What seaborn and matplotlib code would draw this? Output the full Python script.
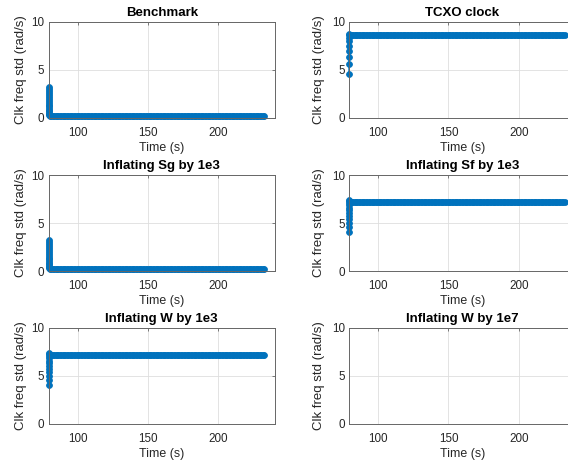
import numpy as np
import pandas as pd
import matplotlib
matplotlib.use("Agg")
import matplotlib.pyplot as plt
import seaborn as sns

# ---- data -------------------------------------------------------------
titles = [
    "Benchmark",
    "TCXO clock",
    "Inflating Sg by 1e3",
    "Inflating Sf by 1e3",
    "Inflating W by 1e3",
    "Inflating W by 1e7",
]

# sample times (s)
time_start = 79.4
time_end = 233.0
time_step = 1.0

# clock frequency std (rad/s): start-up transient (all at first epoch), then converged value
benchmark_transient = [3.2, 3.0, 2.8, 2.6, 2.4, 2.2, 2.0, 1.8, 1.6, 1.4, 1.2, 1.0, 0.85, 0.7, 0.55, 0.42, 0.32]
benchmark_steady = 0.22

tcxo_transient = [4.55, 5.6, 6.35, 7.0, 7.55, 8.0, 8.35, 8.6, 8.75]
tcxo_steady = 8.6

sg_transient = [3.2, 3.0, 2.8, 2.6, 2.4, 2.2, 2.0, 1.8, 1.6, 1.4, 1.2, 1.0, 0.85, 0.7, 0.55, 0.42, 0.32]
sg_steady = 0.22

sf_transient = [4.1, 4.6, 5.0, 5.4, 5.75, 6.05, 6.35, 6.6, 6.85, 7.05, 7.25, 7.4]
sf_steady = 7.15

w3_transient = [4.1, 4.6, 5.0, 5.4, 5.75, 6.05, 6.35, 6.6, 6.85, 7.05, 7.25, 7.4]
w3_steady = 7.15

# W inflated by 1e7: the filter produced no finite std values
w7_transient = []
w7_steady = None

panels = [
    (benchmark_transient, benchmark_steady),
    (tcxo_transient, tcxo_steady),
    (sg_transient, sg_steady),
    (sf_transient, sf_steady),
    (w3_transient, w3_steady),
    (w7_transient, w7_steady),
]

x_ticks = [100, 150, 200]
y_ticks = [0, 5, 10]


def build_frame(transient, steady):
    if steady is None:
        return None
    later = np.arange(time_start + time_step, time_end + 1e-9, time_step)
    times = [time_start] * len(transient) + list(later)
    values = list(transient) + [steady] * len(later)
    return pd.DataFrame({"time": times, "std": values})


# ---- style ------------------------------------------------------------
sns.set_style("white")
plt.rcParams["font.family"] = ["Liberation Sans", "DejaVu Sans"]

blue = "#0072BD"
text_col = "#262626"
spine_col = "#666666"

fig = plt.figure(figsize=(5.68, 4.63), dpi=100)
W, H = 568.0, 463.0

col_left = [48.5, 349.0]
ax_w = 226.5
row_top = [22.0, 175.0, 328.0]
ax_h = 96.0
label_x = [-0.097, -0.106]

for i, (title, (transient, steady)) in enumerate(zip(titles, panels)):
    r, c = divmod(i, 2)
    ax = fig.add_axes([col_left[c] / W, 1 - (row_top[r] + ax_h) / H, ax_w / W, ax_h / H])

    df = build_frame(transient, steady)
    if df is not None:
        sns.lineplot(
            data=df, x="time", y="std", ax=ax,
            estimator=None, sort=False,
            color=blue, linewidth=1.0,
            marker="o", markersize=4.2,
            markeredgecolor=blue, markeredgewidth=0.6,
            clip_on=False,
        )

    ax.set_xlim(79.4, 240.2)
    ax.set_ylim(0, 10)
    ax.set_xticks(x_ticks)
    ax.set_yticks(y_ticks)
    ax.grid(True, color="#dedede", linewidth=0.6)
    ax.set_axisbelow(True)
    for s in ax.spines.values():
        s.set_color(spine_col)
        s.set_linewidth(0.7)
    ax.tick_params(axis="both", direction="in", length=2.5, width=0.6,
                   color=spine_col, top=True, right=True,
                   labelsize=8.4, labelcolor=text_col)
    ax.tick_params(axis="x", pad=6.5)
    ax.tick_params(axis="y", pad=3.0)

    ax.set_title(title, fontsize=9.5, fontweight="bold", color="black", pad=4)
    ax.set_xlabel("Time (s)", fontsize=8.9, color=text_col)
    ax.set_ylabel("Clk freq std (rad/s)", fontsize=9.5, color=text_col)
    ax.xaxis.set_label_coords(0.5, -0.245)
    ax.yaxis.set_label_coords(label_x[c], 0.5)

fig.savefig("out.png", dpi=100, facecolor="white")
